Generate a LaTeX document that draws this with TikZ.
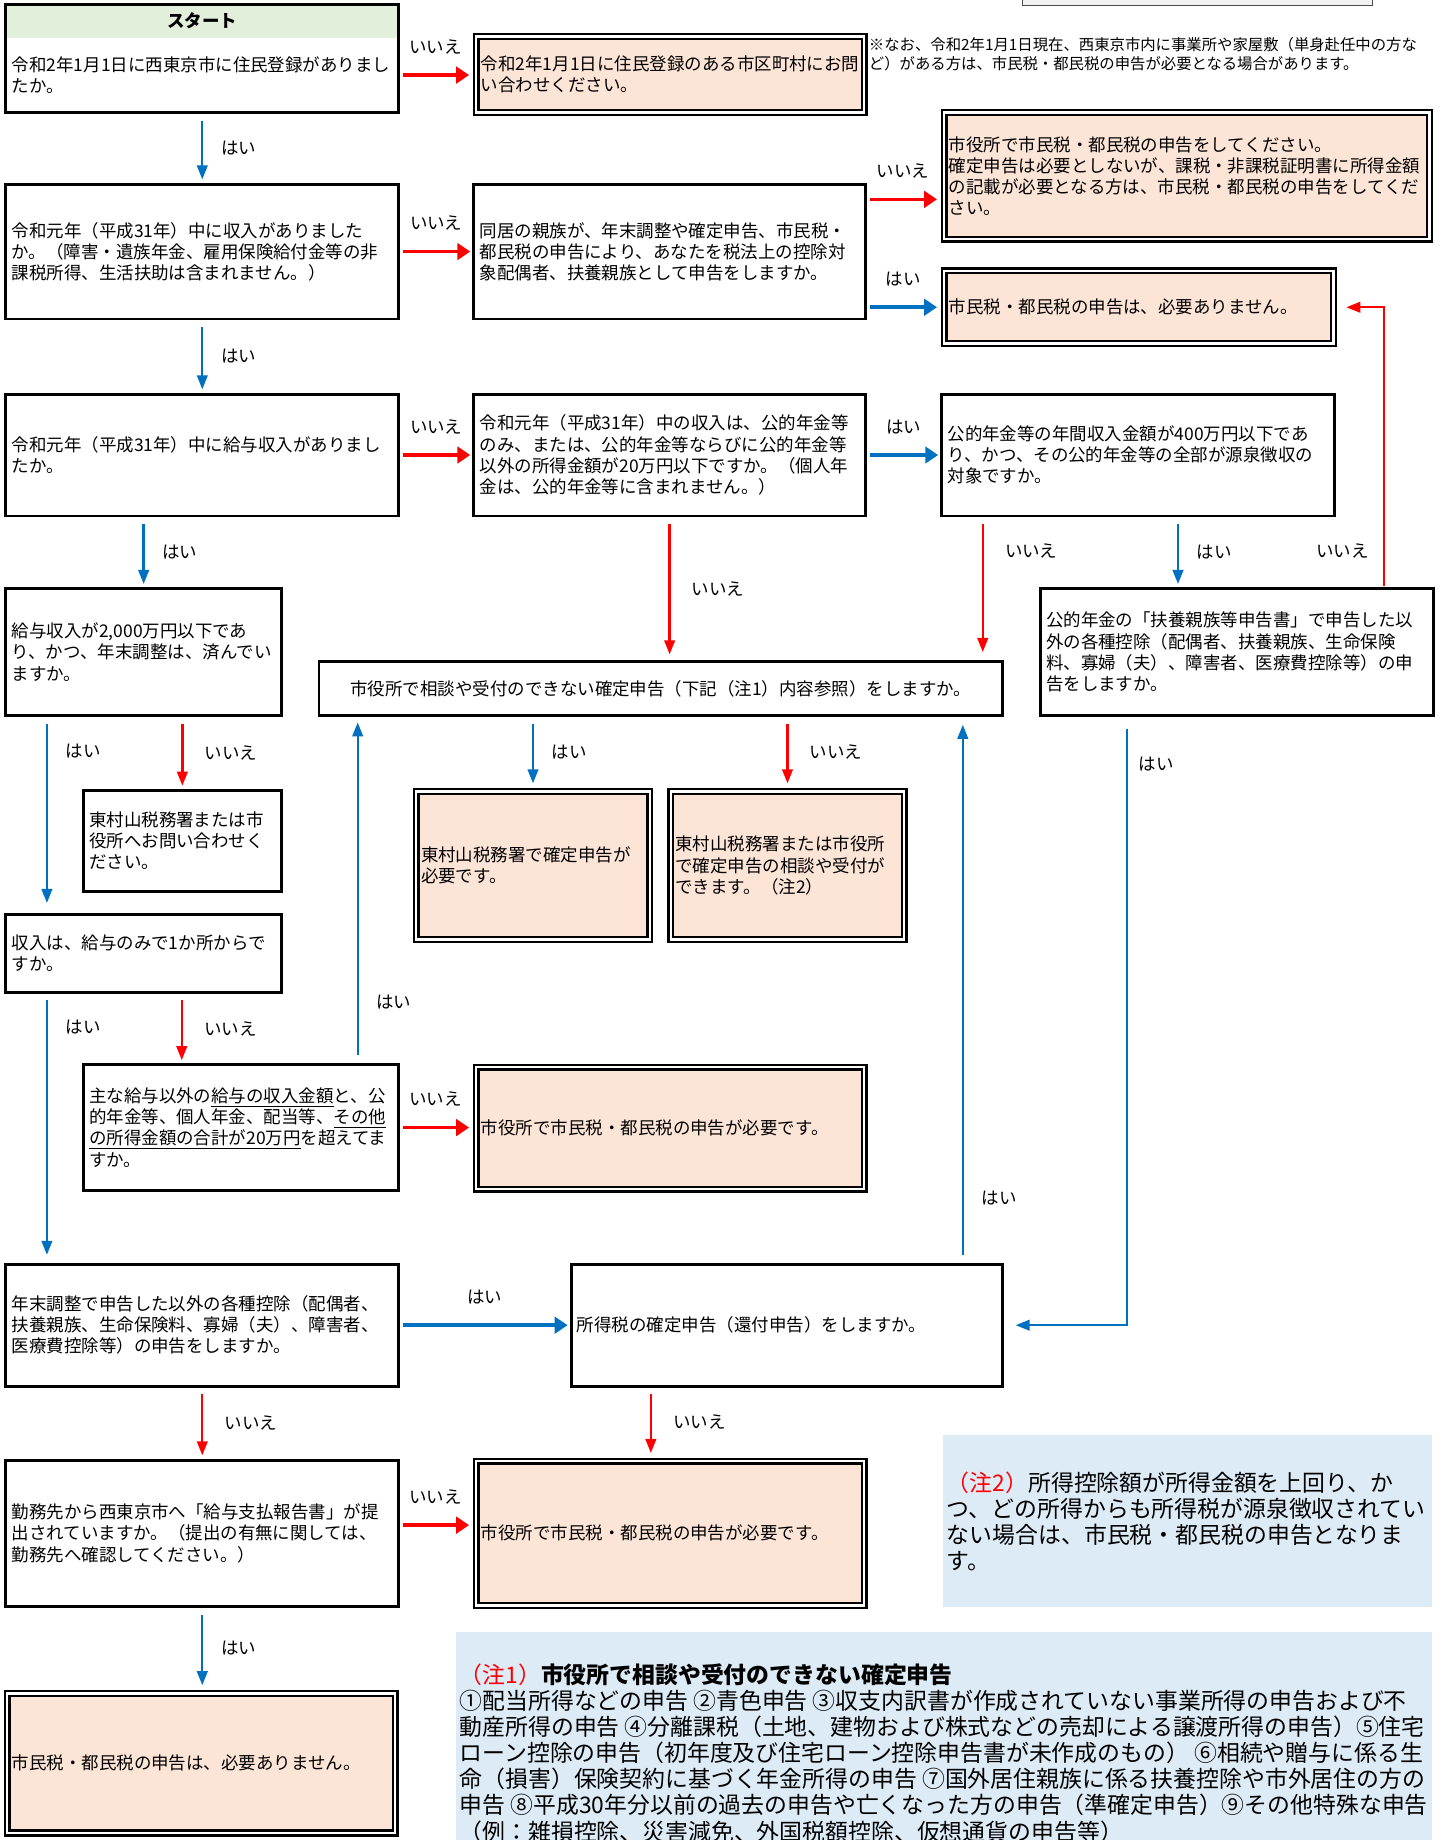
\documentclass[tikz,border=0pt]{standalone}
\usepackage{fontspec}
\setmainfont{Noto Sans CJK JP}
\usepackage{xcolor}
\usetikzlibrary{arrows.meta}

\definecolor{peach}{HTML}{FCE4D6}
\definecolor{paleblue}{HTML}{DDEBF7}
\definecolor{palegreen}{HTML}{E2EFDA}
\definecolor{yesblue}{HTML}{0070C0}
\definecolor{nored}{HTML}{FF0000}
\newcommand{\qfont}{\fontsize{14.9}{18}\selectfont}
\newcommand{\notesize}{\fontsize{19.5}{22.2}\selectfont}
\newcommand{\asidesize}{\fontsize{13.1}{16}\selectfont}

\begin{document}
\begin{tikzpicture}[x=1pt,y=-1pt]
\tikzset{every node/.style={inner sep=0pt,outer sep=0pt}}
\tikzset{qbox/.style={draw,line width=2.5pt,fill=white,anchor=north west,align=left,font=\qfont}}
\tikzset{abox/.style={draw,line width=2pt,double=white,double distance=2pt,fill=peach,outer sep=3pt,anchor=north west,align=left,font=\qfont}}
\tikzset{notebox/.style={fill=paleblue,anchor=north west,align=left,font=\notesize}}
\tikzset{lbl/.style={font=\qfont}}
\tikzset{vlbl/.style={lbl,anchor=west,xshift=16pt}}
\tikzset{hlbl/.style={lbl,yshift=24pt}}
\tikzset{yesv/.style={draw=yesblue,line width=2pt,shorten <=7pt,shorten >=4pt,-{Triangle[length=12pt,width=9pt]}}}
\tikzset{nov/.style={draw=nored,line width=2pt,shorten <=7pt,shorten >=4pt,-{Triangle[length=12pt,width=9pt]}}}
\tikzset{yesh/.style={draw=yesblue,line width=3pt,shorten <=4pt,shorten >=3pt,-{Triangle[length=11pt,width=14pt]}}}
\tikzset{noh/.style={draw=nored,line width=3pt,shorten <=4pt,shorten >=3pt,-{Triangle[length=11pt,width=14pt]}}}

\path[use as bounding box,fill=white] (0,0) rectangle (1234,1569);
\clip (0,0) rectangle (1234,1569);

\node[draw=black!70,fill=black!5,line width=1pt,anchor=north west,minimum width=298pt,minimum height=25pt] (g0) at (872,-20) {};

% questions
\node[fill=palegreen,anchor=north west,minimum width=335pt,minimum height=28pt,font=\qfont\bfseries] (q0) at (5,4) {スタート};
\node[qbox,draw=none,fill=none,minimum width=335pt,minimum height=64pt,text width=325pt] (q1) at (5,32) {令和2年1月1日に西東京市に住民登録がありまし\\たか。};
\draw[line width=2.5pt] (q0.north west) rectangle (q1.south east);
\node[qbox,minimum width=335pt,minimum height=115pt,text width=325pt] (q2) at (5,157) {令和元年（平成31年）中に収入がありました\\か。（障害・遺族年金、雇用保険給付金等の非\\課税所得、生活扶助は含まれません。）};
\node[qbox,minimum width=334pt,minimum height=115pt,text width=324pt] (q3) at (404,157) {同居の親族が、年末調整や確定申告、市民税・\\都民税の申告により、あなたを税法上の控除対\\象配偶者、扶養親族として申告をしますか。};
\node[qbox,minimum width=335pt,minimum height=104pt,text width=325pt] (q4) at (5,336) {令和元年（平成31年）中に給与収入がありまし\\たか。};
\node[qbox,minimum width=334pt,minimum height=104pt,text width=324pt] (q5) at (404,336) {令和元年（平成31年）中の収入は、公的年金等\\のみ、または、公的年金等ならびに公的年金等\\以外の所得金額が20万円以下ですか。（個人年\\金は、公的年金等に含まれません。）};
\node[qbox,minimum width=335pt,minimum height=104pt,text width=325pt] (q6) at (803,336) {公的年金等の年間収入金額が400万円以下であ\\り、かつ、その公的年金等の全部が源泉徴収の\\対象ですか。};
\node[qbox,minimum width=235pt,minimum height=108pt,text width=225pt] (q7) at (5,502) {給与収入が2,000万円以下であ\\り、かつ、年末調整は、済んでい\\ますか。};
\node[qbox,align=center,minimum width=583pt,minimum height=46pt,text width=573pt] (q8) at (272,564) {市役所で相談や受付のできない確定申告（下記（注1）内容参照）をしますか。};
\node[qbox,minimum width=335pt,minimum height=108pt,text width=325pt] (q13) at (887,502) {公的年金の「扶養親族等申告書」で申告した以\\外の各種控除（配偶者、扶養親族、生命保険\\料、寡婦（夫）、障害者、医療費控除等）の申\\告をしますか。};
\node[qbox,minimum width=169pt,minimum height=86pt,text width=159pt] (a4) at (71,674) {東村山税務署または市\\役所へお問い合わせく\\ださい。};
\node[qbox,minimum width=235pt,minimum height=66pt,text width=225pt] (q14) at (5,780) {収入は、給与のみで1か所からで\\すか。};
\node[qbox,minimum width=269pt,minimum height=107pt,text width=259pt] (q9) at (71,908) {主な給与以外の\underline{給与の収入金額}と、公\\的年金等、個人年金、配当等、\underline{その他}\\\underline{の所得金額の合計が20万円}を超えてま\\すか。};
\node[qbox,minimum width=335pt,minimum height=104pt,text width=325pt] (q10) at (5,1078) {年末調整で申告した以外の各種控除（配偶者、\\扶養親族、生命保険料、寡婦（夫）、障害者、\\医療費控除等）の申告をしますか。};
\node[qbox,minimum width=368pt,minimum height=104pt,text width=358pt] (q11) at (487,1078) {所得税の確定申告（還付申告）をしますか。};
\node[qbox,minimum width=335pt,minimum height=125pt,text width=325pt] (q12) at (5,1245) {勤務先から西東京市へ「給与支払報告書」が提\\出されていますか。（提出の有無に関しては、\\勤務先へ確認してください。）};

% answers
\node[abox,minimum width=331pt,minimum height=65pt,text width=323pt] (a1) at (403,28) {令和2年1月1日に住民登録のある市区町村にお問\\い合わせください。};
\node[abox,minimum width=414pt,minimum height=108pt,text width=406pt] (a2) at (802,93) {市役所で市民税・都民税の申告をしてください。\\確定申告は必要としないが、課税・非課税証明書に所得金額\\の記載が必要となる方は、市民税・都民税の申告をしてくだ\\さい。};
\node[abox,minimum width=332pt,minimum height=62pt,text width=324pt] (a3) at (802,228) {市民税・都民税の申告は、必要ありません。};
\node[abox,minimum width=199pt,minimum height=126pt,text width=191pt] (a5) at (352,672) {東村山税務署で確定申告が\\必要です。};
\node[abox,minimum width=199pt,minimum height=126pt,text width=191pt] (a6b) at (569,672) {東村山税務署または市役所\\で確定申告の相談や受付が\\できます。（注2）};
\node[abox,minimum width=331pt,minimum height=104pt,text width=323pt] (a6) at (403,907) {市役所で市民税・都民税の申告が必要です。};
\node[abox,minimum width=331pt,minimum height=123pt,text width=323pt] (a7) at (403,1243) {市役所で市民税・都民税の申告が必要です。};
\node[abox,minimum width=331pt,minimum height=119pt,text width=323pt] (a8) at (3,1441) {市民税・都民税の申告は、必要ありません。};

% notes
\node[anchor=north west,align=left,font=\asidesize] (n0) at (741,32) {※なお、令和2年1月1日現在、西東京市内に事業所や家屋敷（単身赴任中の方な\\ど）がある方は、市民税・都民税の申告が必要となる場合があります。};
\node[notebox,minimum width=417pt,minimum height=146pt,text width=410pt] (n2) at (804,1224) {{\color{nored}（注2）}所得控除額が所得金額を上回り、か\\つ、どの所得からも所得税が源泉徴収されてい\\ない場合は、市民税・都民税の申告となりま\\す。};
\node[notebox,minimum width=832pt,minimum height=200pt] (n1) at (389,1392) {};
\node[anchor=north west,align=left,font=\notesize] (t1) at (392,1419) {{\color{nored}（注1）}\textbf{市役所で相談や受付のできない確定申告}\\
①配当所得などの申告 ②青色申告 ③収支内訳書が作成されていない事業所得の申告および不\\
動産所得の申告 ④分離課税（土地、建物および株式などの売却による譲渡所得の申告）⑤住宅\\
ローン控除の申告（初年度及び住宅ローン控除申告書が未作成のもの） ⑥相続や贈与に係る生\\
命（損害）保険契約に基づく年金所得の申告 ⑦国外居住親族に係る扶養控除や市外居住の方の\\
申告 ⑧平成30年分以前の過去の申告や亡くなった方の申告（準確定申告）⑨その他特殊な申告\\
（例：雑損控除、災害減免、外国税額控除、仮想通貨の申告等）};

% connectors
\draw[noh] (q1.east) -- node[hlbl] (l1) {いいえ} (q1.east -| a1.west);
\draw[yesv] (q1.south) -- node[vlbl] (l2) {はい} (q2.north);
\draw[noh] (q2.east) -- node[hlbl] (l3) {いいえ} (q2.east -| q3.west);
\draw[noh] ([yshift=-20pt]a2.west -| q3.east) -- node[hlbl] (l4) {いいえ} ([yshift=-20pt]a2.west);
\draw[yesh] (a3.west -| q3.east) -- node[hlbl] (l5) {はい} (a3.west);
\draw[yesv] (q2.south) -- node[vlbl] (l6) {はい} (q4.north);
\draw[noh] (q4.east) -- node[hlbl] (l7) {いいえ} (q4.east -| q5.west);
\draw[yesh] (q5.east) -- node[hlbl] (l8) {はい} (q5.east -| q6.west);
\draw[yesv] (q7.north |- q4.south) -- node[vlbl] (l9) {はい} (q7.north);
\draw[nov,shorten >=6pt] (q5.south) -- node[vlbl,xshift=3pt] (l10) {いいえ} (q5.south |- q8.north);
\draw[nov,shorten >=8pt] ([xshift=-17pt]q8.north east |- q6.south) -- node[vlbl,xshift=3pt,pos=0.24] (l11) {いいえ} ([xshift=-17pt]q8.north east);
\draw[yesv] ([xshift=-50pt]q13.north |- q6.south) -- node[vlbl] (l12) {はい} ([xshift=-50pt]q13.north);
\draw[nov,shorten <=2pt,shorten >=8pt] ([xshift=-42pt]q13.north east) |- node[lbl,anchor=east,xshift=-13pt,pos=0.067] (l13) {いいえ} (a3.east);
\draw[yesv,shorten >=10pt] ([xshift=35pt]q7.south west) -- node[vlbl,pos=0.18] (l14) {はい} ([xshift=35pt]q14.north west);
\draw[nov] (a4.north |- q7.south) -- node[vlbl,xshift=3pt] (l15) {いいえ} (a4.north);
\draw[yesv,shorten <=8pt,shorten >=6pt] ([xshift=234pt]q9.north west) -- node[vlbl,pos=0.18] (l16) {はい} ([xshift=234pt]q9.north west |- q8.south);
\draw[yesv] (a5.north |- q8.south) -- node[vlbl] (l17) {はい} (a5.north);
\draw[nov] (a6b.north |- q8.south) -- node[vlbl,xshift=3pt] (l18) {いいえ} (a6b.north);
\draw[yesv,shorten <=8pt,shorten >=8pt] ([xshift=-34pt]q11.north east) -- node[vlbl,pos=0.12] (l19) {はい} ([xshift=-34pt]q8.south east);
\draw[yesv,shorten <=12pt,shorten >=11pt] ([xshift=-261pt]q13.south east) |- node[vlbl,xshift=-6pt,pos=0.04] (l20) {はい} (q11.east);
\draw[yesv,shorten >=8pt] ([xshift=35pt]q14.south west) -- node[vlbl,pos=0.13] (l21) {はい} ([xshift=35pt]q10.north west);
\draw[nov] ([xshift=84pt]q9.north west |- q14.south) -- node[vlbl,xshift=3pt] (l22) {いいえ} ([xshift=84pt]q9.north west);
\draw[noh] (q9.east) -- node[hlbl] (l23) {いいえ} (q9.east -| a6.west);
\draw[yesh] (q10.east) -- node[hlbl] (l24) {はい} (q10.east -| q11.west);
\draw[nov] (q10.south) -- node[vlbl,xshift=3pt] (l25) {いいえ} (q12.north);
\draw[nov] ([xshift=68pt]q11.south west) -- node[vlbl,xshift=3pt] (l26) {いいえ} ([xshift=68pt]q11.south west |- a7.north);
\draw[noh] ([yshift=7pt]q12.east) -- node[hlbl] (l27) {いいえ} ([yshift=7pt]q12.east -| a7.west);
\draw[yesv] (q12.south) -- node[vlbl] (l28) {はい} (q12.south |- a8.north);
\end{tikzpicture}
\end{document}
